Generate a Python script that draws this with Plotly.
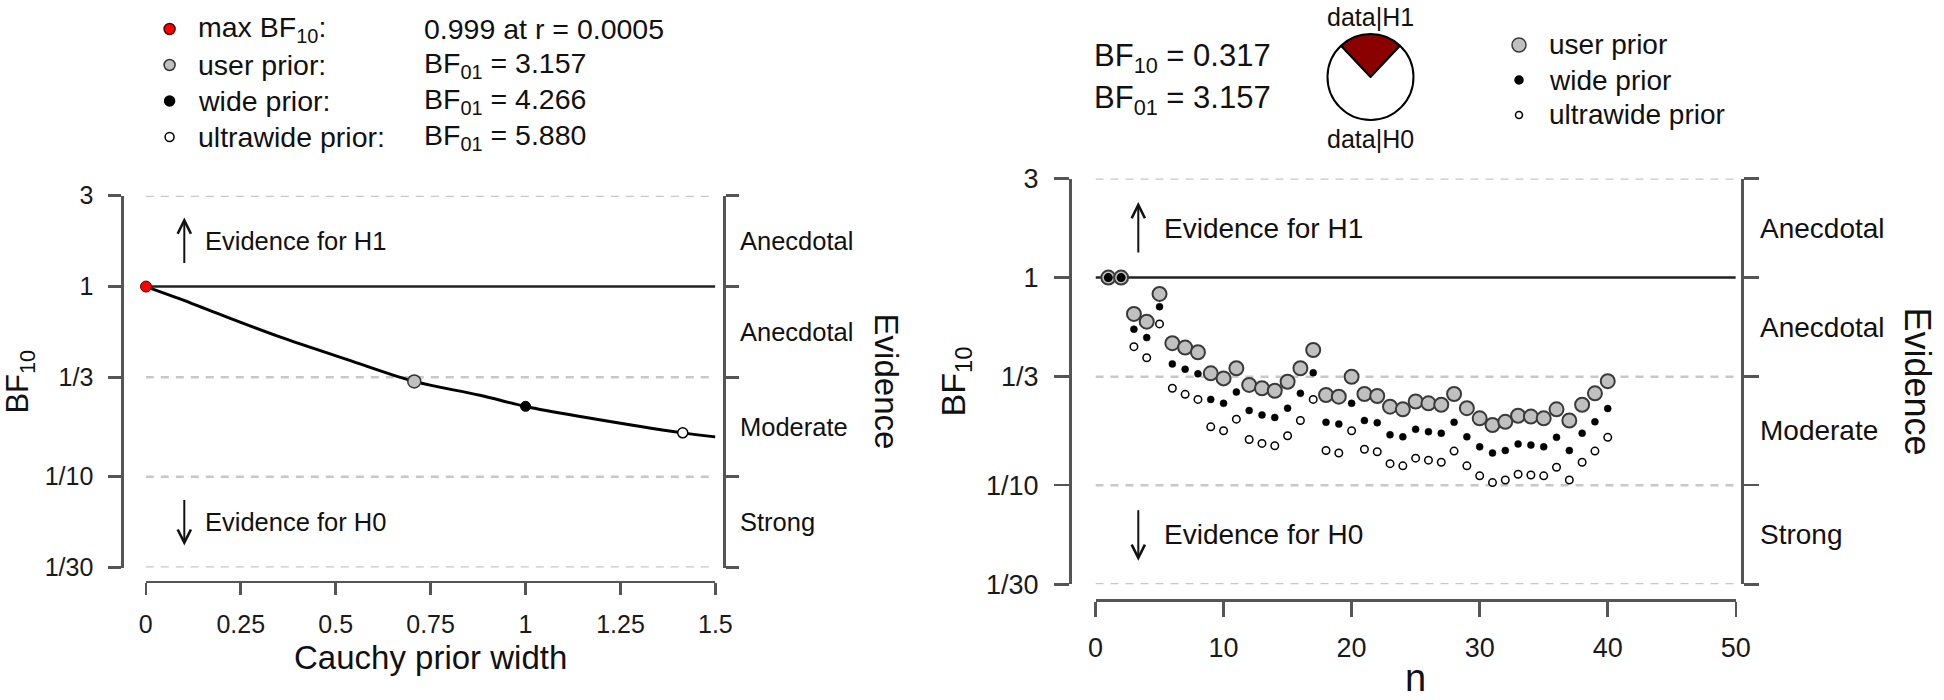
import math
import plotly.graph_objects as go

W, H = 1944, 700
FONT = "Liberation Sans, Arial, sans-serif"

# ---------------- data ----------------
bf_tick_vals = [3, 1, 1/3, 1/10, 1/30]
bf_tick_text = ["3", "1", "1/3", "1/10", "1/30"]
evidence_mid_vals = [math.sqrt(3), 1/math.sqrt(3), 1/math.sqrt(30), 1/math.sqrt(300)]
evidence_labels = ["Anecdotal", "Anecdotal", "Moderate", "Strong"]

width_ticks = [0, 0.25, 0.5, 0.75, 1, 1.25, 1.5]
width_tick_text = ["0", "0.25", "0.5", "0.75", "1", "1.25", "1.5"]
n_ticks = [0, 10, 20, 30, 40, 50]

# robustness curve (BF10 vs Cauchy prior width)
prior_width = [0, 0.09, 0.178, 0.353, 0.529, 0.707, 0.88, 1.0, 1.152, 1.414, 1.5]
bf10_robust = [0.999, 0.860, 0.735, 0.543, 0.414, 0.317, 0.268, 0.234, 0.206, 0.170, 0.162]

max_r = 0.0005
max_bf10 = 0.999
prior_names = ["user prior", "wide prior", "ultrawide prior"]
prior_r = [0.707, 1.0, 1.414]
prior_bf01 = [3.157, 4.266, 5.880]

# sequential analysis
n_obs = list(range(1, 41))
bf10_user = [1.0, 1.0, 0.668, 0.613, 0.834, 0.483, 0.460, 0.437, 0.346, 0.327,
             0.366, 0.304, 0.293, 0.285, 0.315, 0.366, 0.448, 0.272, 0.267, 0.333,
             0.275, 0.269, 0.239, 0.232, 0.253, 0.248, 0.244, 0.275, 0.235, 0.210,
             0.195, 0.202, 0.216, 0.214, 0.210, 0.232, 0.205, 0.244, 0.277, 0.317]
bf10_wide = [1.0, 1.0, 0.564, 0.514, 0.724, 0.384, 0.362, 0.344, 0.259, 0.248,
             0.281, 0.229, 0.218, 0.212, 0.235, 0.277, 0.348, 0.201, 0.197, 0.248,
             0.205, 0.200, 0.175, 0.171, 0.186, 0.181, 0.178, 0.201, 0.171, 0.153,
             0.143, 0.147, 0.158, 0.156, 0.153, 0.170, 0.147, 0.178, 0.202, 0.234]
bf10_ultra = [1.0, 1.0, 0.465, 0.411, 0.598, 0.293, 0.274, 0.259, 0.191, 0.183,
              0.208, 0.166, 0.159, 0.155, 0.173, 0.205, 0.259, 0.147, 0.143, 0.183,
              0.149, 0.145, 0.127, 0.124, 0.135, 0.132, 0.129, 0.146, 0.124, 0.111,
              0.103, 0.106, 0.113, 0.112, 0.111, 0.122, 0.106, 0.129, 0.146, 0.170]
final_bf10 = 0.317
final_bf01 = 3.157

# ---------------- geometry (pixels) ----------------
def px(x):
    return x / W

def py(y):
    return 1 - y / H

L = dict(x0=145.8, x1=715.4, ytop=195.7, ybot=567.5, yaxis=122.3, xaxis=581.7, evid=724.0,
         xr=[0, 1.5], tick=25, ann=25.5, title=33)
R = dict(x0=1095.5, x1=1735.8, ytop=178.5, ybot=584.3, yaxis=1070.0, xaxis=600.0, evid=1742.3,
         xr=[0, 50], tick=27, ann=28, title=36)
yr = [math.log10(1/30), math.log10(3)]

AX = "#555555"
GRID = "#c8c8c8"

fig = go.Figure()


def axis_common(size):
    return dict(showgrid=False, zeroline=False, showline=True, linecolor=AX, linewidth=2.5,
                ticks="outside", tickcolor=AX, tickwidth=2.5, automargin=False,
                tickfont=dict(family=FONT, size=size, color="#1a1a1a"))


layout = dict(width=W, height=H, margin=dict(l=0, r=0, t=0, b=0, pad=0, autoexpand=False),
              autosize=False, paper_bgcolor="white", plot_bgcolor="white", showlegend=False)

for k, (P, xa, ya, ya_e, xticks, xtext, xlen, ylen) in enumerate([
        (L, "xaxis", "yaxis", "yaxis2", width_ticks, width_tick_text, 12, 13),
        (R, "xaxis2", "yaxis3", "yaxis4", n_ticks, [str(v) for v in n_ticks], 15, 15)]):
    xref = "x" if k == 0 else "x2"
    yref = "y" if k == 0 else "y3"
    yref_e = "y2" if k == 0 else "y4"
    layout[xa] = dict(domain=[px(P["x0"]), px(P["x1"])], range=P["xr"], anchor="free",
                      position=py(P["xaxis"]), tickvals=xticks, ticktext=xtext,
                      ticklen=xlen, ticklabelstandoff=8, **axis_common(P["tick"]))
    layout[ya] = dict(domain=[py(P["ybot"]), py(P["ytop"])], type="log", range=yr,
                      anchor="free", position=px(P["yaxis"]), tickvals=bf_tick_vals,
                      ticktext=bf_tick_text, ticklen=ylen, ticklabelstandoff=10,
                      **axis_common(P["tick"]))
    layout[ya_e] = dict(domain=[py(P["ybot"]), py(P["ytop"])], type="log", range=yr,
                        overlaying=yref, side="right", anchor="free", position=px(P["evid"]),
                        tickvals=bf_tick_vals, showticklabels=False, ticklen=ylen,
                        **axis_common(P["tick"]))
    # invisible trace so the evidence axis is drawn
    fig.add_trace(go.Scatter(x=[P["xr"][0]], y=[1], xaxis=xref, yaxis=yref_e, mode="markers",
                             marker=dict(opacity=0), hoverinfo="skip"))

fig.update_layout(**layout)

shapes = []
annotations = []

for k, P in enumerate([L, R]):
    xref = "x" if k == 0 else "x2"
    yref = "y" if k == 0 else "y3"
    decade_px = (P["ybot"] - P["ytop"]) / (yr[1] - yr[0])
    for v in bf_tick_vals:
        if v == 1:
            line = dict(color="#222222", width=2.5)
        else:
            line = dict(color=GRID, width=2.5, dash="8px,7px")
        shapes.append(dict(type="line", xref=xref, yref=yref, x0=P["xr"][0], x1=P["xr"][1],
                           y0=v, y1=v, line=line, layer="below"))
    # evidence category labels
    tick_end = P["evid"] + (13 if k == 0 else 15)
    for v, t in zip(evidence_mid_vals, evidence_labels):
        annotations.append(dict(xref="paper", yref=yref, x=px(tick_end + 1), y=math.log10(v),
                                text=t, showarrow=False, xanchor="left", yanchor="middle",
                                font=dict(family=FONT, size=P["ann"], color="#111")))
    # evidence for H1/H0 arrows and text
    arrow_x_px = P["x0"] + (38.5 if k == 0 else 42.8)
    text_x_px = P["x0"] + (57.5 if k == 0 else 66.2)
    alen = 47 if k == 0 else 52
    for v, lbl, sgn in [(evidence_mid_vals[0], "Evidence for H1", 1),
                        (evidence_mid_vals[3], "Evidence for H0", -1)]:
        lv = math.log10(v)
        annotations.append(dict(xref="paper", yref=yref, x=px(text_x_px), y=lv, text=lbl,
                                showarrow=False, xanchor="left", yanchor="middle",
                                font=dict(family=FONT, size=P["ann"], color="#111")))
        head = lv + sgn * (alen / 2) / decade_px
        annotations.append(dict(xref="paper", yref=yref, x=px(arrow_x_px), y=head, text="",
                                showarrow=True, ax=0, ay=sgn * alen, arrowhead=5, arrowsize=1.3,
                                arrowwidth=2, arrowcolor="#111", standoff=0, startstandoff=0))
    # axis titles
    mid_y = (P["ytop"] + P["ybot"]) / 2
    annotations.append(dict(xref="paper", yref="paper",
                            x=px(20 if k == 0 else 955), y=py(mid_y),
                            text="BF<sub>10</sub>", textangle=-90, showarrow=False,
                            xanchor="center", yanchor="middle",
                            font=dict(family=FONT, size=P["title"] - 2, color="#111")))
    annotations.append(dict(xref="paper", yref="paper",
                            x=px(886 if k == 0 else 1918), y=py(mid_y),
                            text="Evidence", textangle=90, showarrow=False,
                            xanchor="center", yanchor="middle",
                            font=dict(family=FONT, size=P["title"], color="#111")))

annotations.append(dict(xref="paper", yref="paper", x=px((L["x0"] + L["x1"]) / 2), y=py(657),
                        text="Cauchy prior width", showarrow=False, xanchor="center",
                        yanchor="middle", font=dict(family=FONT, size=L["title"], color="#111")))
annotations.append(dict(xref="paper", yref="paper", x=px((R["x0"] + R["x1"]) / 2), y=py(678),
                        text="n", showarrow=False, xanchor="center",
                        yanchor="middle", font=dict(family=FONT, size=R["title"] + 2, color="#111")))

# ---------------- left panel traces ----------------
fig.add_trace(go.Scatter(x=prior_width, y=bf10_robust, xaxis="x", yaxis="y", mode="lines",
                         line=dict(color="black", width=3, shape="spline"), hoverinfo="skip"))

marker_styles = [
    dict(color="#c0c0c0", size=13, line=dict(color="#333333", width=1.5)),
    dict(color="black", size=10, line=dict(color="black", width=1)),
    dict(color="white", size=10, line=dict(color="black", width=1.5)),
]
fig.add_trace(go.Scatter(x=[max_r], y=[max_bf10], xaxis="x", yaxis="y", mode="markers",
                         marker=dict(color="#ff0000", size=11, line=dict(color="#550000", width=1)),
                         cliponaxis=False, hoverinfo="skip"))
for r, bf01, ms in zip(prior_r, prior_bf01, marker_styles):
    fig.add_trace(go.Scatter(x=[r], y=[1 / bf01], xaxis="x", yaxis="y", mode="markers",
                             marker=ms, cliponaxis=False, hoverinfo="skip"))

# ---------------- right panel traces ----------------
seq_styles = [
    dict(color="#c0c0c0", size=14, line=dict(color="#3a3a3a", width=2)),
    dict(color="black", size=7, line=dict(color="black", width=0.5)),
    dict(color="white", size=7.5, line=dict(color="black", width=1.5)),
]
for ys, ms in [(bf10_user, seq_styles[0]), (bf10_ultra, seq_styles[2]), (bf10_wide, seq_styles[1])]:
    fig.add_trace(go.Scatter(x=n_obs, y=ys, xaxis="x2", yaxis="y3", mode="markers",
                             marker=ms, cliponaxis=False, hoverinfo="skip"))

# ---------------- top-left legend ----------------
leg_rows = [29, 65, 101, 137]
leg_labels = ["max BF<sub>10</sub>:"] + [f"{nm}:" for nm in prior_names]
leg_values = [f"{max_bf10:.3f} at r = {max_r:.4f}"] + [f"BF<sub>01</sub> = {b:.3f}" for b in prior_bf01]
leg_marker = [dict(fill="#ff0000", line="#550000", r=5.5)] + [
    dict(fill="#c0c0c0", line="#333333", r=5.5),
    dict(fill="black", line="black", r=5),
    dict(fill="white", line="black", r=4.5)]


def circle(xp, yp, m):
    return dict(type="circle", xref="paper", yref="paper", xsizemode="pixel", ysizemode="pixel",
                xanchor=px(xp), yanchor=py(yp), x0=-m["r"], x1=m["r"], y0=-m["r"], y1=m["r"],
                fillcolor=m["fill"], line=dict(color=m["line"], width=1.5))


for yrow, lab, val, m in zip(leg_rows, leg_labels, leg_values, leg_marker):
    shapes.append(circle(169.6, yrow, m))
    annotations.append(dict(xref="paper", yref="paper", x=px(196), y=py(yrow), text=lab,
                            showarrow=False, xanchor="left", yanchor="middle",
                            font=dict(family=FONT, size=28.5, color="#111")))
    annotations.append(dict(xref="paper", yref="paper", x=px(422), y=py(yrow), text=val,
                            showarrow=False, xanchor="left", yanchor="middle",
                            font=dict(family=FONT, size=28.5, color="#111")))

# ---------------- top-right: BF text, pie, legend ----------------
annotations.append(dict(xref="paper", yref="paper", x=px(1092), y=py(58),
                        text=f"BF<sub>10</sub> = {final_bf10:.3f}", showarrow=False,
                        xanchor="left", yanchor="middle", font=dict(family=FONT, size=31, color="#111")))
annotations.append(dict(xref="paper", yref="paper", x=px(1092), y=py(100),
                        text=f"BF<sub>01</sub> = {final_bf01:.3f}", showarrow=False,
                        xanchor="left", yanchor="middle", font=dict(family=FONT, size=31, color="#111")))

p_h1 = final_bf10 / (1 + final_bf10)
pie_cx, pie_cy, pie_r = 1370.5, 77.0, 43.0
fig.add_trace(go.Pie(values=[p_h1, 1 - p_h1], sort=False, direction="clockwise",
                     rotation=-p_h1 * 180, textinfo="none", hoverinfo="skip", automargin=False,
                     marker=dict(colors=["#8b0000", "white"], line=dict(color="black", width=2)),
                     domain=dict(x=[px(pie_cx - pie_r), px(pie_cx + pie_r)],
                                 y=[py(pie_cy + pie_r), py(pie_cy - pie_r)])))
annotations.append(dict(xref="paper", yref="paper", x=px(pie_cx), y=py(17), text="data|H1",
                        showarrow=False, xanchor="center", yanchor="middle",
                        font=dict(family=FONT, size=25, color="#111")))
annotations.append(dict(xref="paper", yref="paper", x=px(pie_cx), y=py(139), text="data|H0",
                        showarrow=False, xanchor="center", yanchor="middle",
                        font=dict(family=FONT, size=25, color="#111")))

rleg_rows = [45, 80, 115]
rleg_marker = [dict(fill="#c0c0c0", line="#3a3a3a", r=7),
               dict(fill="black", line="black", r=4),
               dict(fill="white", line="black", r=3.5)]
for yrow, nm, m in zip(rleg_rows, prior_names, rleg_marker):
    shapes.append(circle(1519, yrow, m))
    annotations.append(dict(xref="paper", yref="paper", x=px(1547), y=py(yrow), text=nm,
                            showarrow=False, xanchor="left", yanchor="middle",
                            font=dict(family=FONT, size=28, color="#111")))

fig.update_layout(shapes=shapes, annotations=annotations)
fig.write_html("out.html", config={"displayModeBar": False, "staticPlot": True},
               post_script="document.body.style.margin='0px';"
                           "document.documentElement.style.overflow='hidden';")
